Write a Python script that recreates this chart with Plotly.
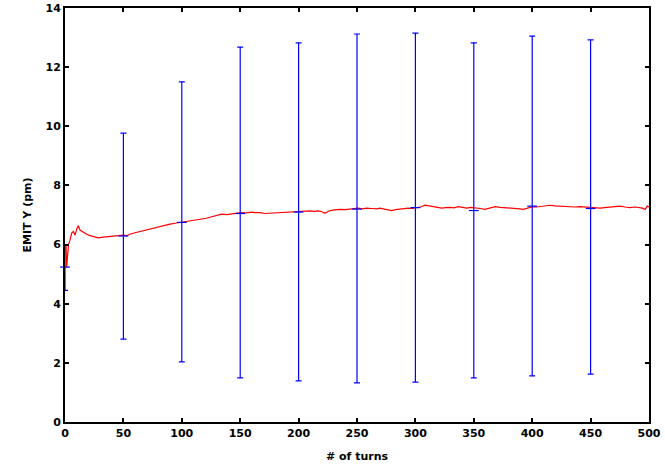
import plotly.graph_objects as go

# Red line: EMIT Y vs turn
turns = [0, 0.9, 1.4, 2.0, 3.0, 4.3, 5.7, 7.1, 8.6, 10.0, 11.4, 12.8, 15.7, 18.6, 21.4, 24.3,
         28.5, 32.8, 38.5, 42.8, 47.0, 50.0, 52.8, 55.5, 59.9, 64.0, 68.5, 73.0, 77.0, 81.0,
         85.6, 90.0, 94.2, 100.5, 104.0, 108.4, 112.5, 117.0, 121.0, 125.6, 130.0, 134.1,
         138.5, 142.7, 146.5, 150.4, 155.0, 159.8, 163.0, 167.0, 171.0, 175.5, 180.0, 184.1,
         188.5, 192.6, 196.5, 200.3, 205.0, 209.8, 213.5, 216.9, 220.0, 222.6, 224.5, 226.9,
         231.0, 235.4, 240.0, 244.0, 247.5, 251.1, 254.5, 258.3, 262.5, 266.8, 269.5, 272.5,
         276.0, 279.7, 283.0, 286.8, 290.5, 294.0, 297.5, 301.1, 304.5, 308.2, 312.0, 315.3,
         319.0, 322.5, 326.0, 329.6, 333.0, 336.7, 340.5, 343.9, 347.5, 351.0, 355.5, 359.6,
         364.0, 368.2, 372.5, 376.7, 381.0, 386.7, 389.5, 392.4, 396.5, 400.4, 404.0, 408.1,
         411.5, 415.2, 419.5, 423.8, 428.0, 432.4, 436.5, 441.0, 446.0, 451.2, 454.5, 458.0,
         462.0, 466.6, 471.0, 475.2, 479.5, 483.7, 488.0, 492.3, 494.5, 496.6, 498.6, 500.0]
emit = [6.00, 5.99, 5.23, 5.55, 6.00, 6.15, 6.39, 6.44, 6.32, 6.52, 6.64, 6.49, 6.41, 6.35, 6.30, 6.27,
        6.23, 6.25, 6.28, 6.30, 6.30, 6.32, 6.30, 6.35, 6.40, 6.44, 6.49, 6.53, 6.58, 6.61,
        6.66, 6.69, 6.72, 6.76, 6.78, 6.81, 6.83, 6.85, 6.89, 6.94, 6.98, 7.03,
        7.01, 7.03, 7.06, 7.08, 7.07, 7.10, 7.08, 7.08, 7.05, 7.06, 7.07, 7.06,
        7.09, 7.08, 7.10, 7.11, 7.12, 7.14, 7.12, 7.14, 7.11, 7.06, 7.10, 7.15,
        7.17, 7.19, 7.18, 7.20, 7.22, 7.23, 7.21, 7.23, 7.22, 7.21, 7.23, 7.20,
        7.18, 7.15, 7.18, 7.20, 7.22, 7.23, 7.22, 7.25, 7.27, 7.33, 7.30, 7.28,
        7.25, 7.23, 7.25, 7.26, 7.24, 7.28, 7.26, 7.23, 7.26, 7.25, 7.22, 7.19,
        7.24, 7.28, 7.26, 7.25, 7.25, 7.23, 7.21, 7.19, 7.24, 7.28, 7.27, 7.30,
        7.31, 7.33, 7.31, 7.30, 7.28, 7.26, 7.27, 7.28, 7.26, 7.25, 7.24, 7.23,
        7.25, 7.26, 7.28, 7.30, 7.27, 7.25, 7.27, 7.26, 7.23, 7.19, 7.30, 7.27]

# Blue error bars
bar_turns = [0, 50, 100, 150, 200, 250, 300, 350, 400, 450]
bar_center = [5.24, 6.29, 6.75, 7.05, 7.10, 7.20, 7.25, 7.15, 7.30, 7.22]
bar_top = [5.97, 9.77, 11.50, 12.68, 12.82, 13.12, 13.15, 12.82, 13.05, 12.92]
bar_bottom = [4.45, 2.80, 2.03, 1.49, 1.39, 1.32, 1.35, 1.49, 1.56, 1.62]

x_ticks = [0, 50, 100, 150, 200, 250, 300, 350, 400, 450, 500]
y_ticks = [0, 2, 4, 6, 8, 10, 12, 14]

err_plus = [t - c for t, c in zip(bar_top, bar_center)]
err_minus = [c - b for c, b in zip(bar_center, bar_bottom)]

fig = go.Figure()
fig.add_trace(go.Scatter(
    x=turns, y=emit, mode="lines",
    line=dict(color="#ff0000", width=1.2),
    showlegend=False, cliponaxis=False,
))
fig.add_trace(go.Scatter(
    x=bar_turns, y=bar_center, mode="markers",
    marker=dict(symbol="line-ew", size=7, color="#0000ff",
                line=dict(color="#0000ff", width=1.2)),
    error_y=dict(type="data", symmetric=False, array=err_plus, arrayminus=err_minus,
                 color="#0000ff", thickness=1.2, width=3),
    showlegend=False, cliponaxis=False,
))

font = dict(family="DejaVu Sans", size=11, color="black", weight="bold")
axis_common = dict(
    showline=True, linecolor="black", linewidth=2, mirror="ticks",
    ticks="inside", ticklen=4, tickwidth=1.5, tickcolor="black",
    showgrid=False, zeroline=False, tickfont=font, automargin=False,
)
fig.update_layout(
    width=665, height=465,
    margin=dict(l=65, r=16, t=8, b=43),
    paper_bgcolor="white", plot_bgcolor="white",
    xaxis=dict(range=[0, 500], tickvals=x_ticks,
               title=dict(text="# of turns", font=font, standoff=13), **axis_common),
    yaxis=dict(range=[0, 14], tickvals=y_ticks,
               title=dict(text="EMIT Y (pm)", font=font, standoff=12), **axis_common),
)
fig.write_html("out.html")
